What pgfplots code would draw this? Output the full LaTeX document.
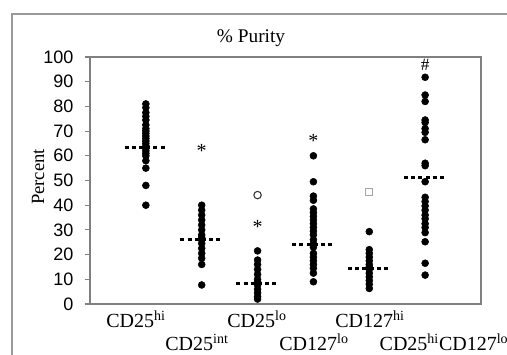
\documentclass[border=0pt]{standalone}
\usepackage{pgfplots}
\pgfplotsset{compat=1.18}
\usepackage{fontspec}
\setmainfont{Liberation Serif}
\newfontfamily\arial{Liberation Sans}
\definecolor{frm}{RGB}{128,128,128}
\newcommand\tickfont{\fontsize{13.5}{15}\selectfont\arial}
\begin{document}
\begin{tikzpicture}[x=0.75pt,y=0.75pt]
\useasboundingbox (0,0) rectangle (507,354);
\draw[frm!80,line width=1.2pt] (12,-60) -- (12,340) -- (600,340);
\begin{axis}[
  at={(67.5pt,37.5pt)}, anchor=origin,
  scale only axis, width=293.25pt, height=185.25pt,
  xmin=0, xmax=7, ymin=0, ymax=100,
  xtick=\empty,
  ytick={0,10,...,100},
  yticklabels={0,10,20,30,40,50,60,70,80,90,100},
  ytick pos=left,
  tick align=outside,
  major tick length=3.75pt,
  axis line style={frm, line width=0.8pt},
  tick style={frm, line width=0.8pt},
  yticklabel style={font=\tickfont, xshift=-5.5pt, inner sep=0.3em},
  clip=false,
]
% data points
\addplot[only marks, mark=*, mark size=2.6pt, black] coordinates {
 (1,81) (1,79.5) (1,77.5) (1,76) (1,74.5) (1,72.5) (1,71) (1,70) (1,69) (1,68) (1,67)
 (1,66) (1,65) (1,64) (1,63) (1,62) (1,61) (1,60) (1,58) (1,55) (1,48) (1,40)
 (2,40) (2,38) (2,36) (2,34) (2,32) (2,30) (2,28) (2,27) (2,26) (2,24.5) (2,22.5)
 (2,20.5) (2,18.5) (2,16) (2,7.7)
 (3,21.5) (3,17.8) (3,16) (3,14) (3,12) (3,10) (3,9) (3,7.7) (3,6) (3,4.5) (3,3) (3,2)
 (4,60) (4,49.5) (4,43.7) (4,42) (4,38.5) (4,37) (4,35.5) (4,34) (4,32.5) (4,31)
 (4,29.5) (4,28) (4,26) (4,24.5) (4,23) (4,20.5) (4,19) (4,17.5) (4,16) (4,14.5)
 (4,12.5) (4,9)
 (5,29.3) (5,22) (5,20.5) (5,19) (5,17.5) (5,16) (5,15) (5,14) (5,12.5) (5,11)
 (5,9.5) (5,8) (5,6.3)
 (6,91.8) (6,84.6) (6,82) (6,74.5) (6,73.5) (6,71) (6,69.5) (6,66.5) (6,57) (6,56)
 (6,49.5) (6,43.2) (6,41.5) (6,39.7) (6,38) (6,36) (6,34.5) (6,32.5) (6,31)
 (6,28.9) (6,25.2) (6,16.5) (6,11.7)
};
% medians
\pgfplotsset{med/.style={black, line width=2.25pt, dash pattern=on 3pt off 2.4pt, forget plot}}
\addplot[med] coordinates {(0.62,63.4) (1.38,63.4)};
\addplot[med] coordinates {(1.62,26.2) (2.38,26.2)};
\addplot[med] coordinates {(2.62,8.4) (3.38,8.4)};
\addplot[med] coordinates {(3.62,23.9) (4.38,23.9)};
\addplot[med] coordinates {(4.62,14.4) (5.38,14.4)};
\addplot[med] coordinates {(5.62,51.3) (6.38,51.3)};
% outliers
\addplot[only marks, mark=o, mark size=2.8pt, black!80, mark options={line width=0.8pt}] coordinates {(3,44.1)};
\addplot[only marks, mark=square, mark size=2.6pt, black!35, mark options={line width=0.8pt}] coordinates {(5,45.5)};
% significance markers
\node[font=\fontsize{15}{15}\selectfont, anchor=center, yshift=-3pt] at (axis cs:2,63.7) {*};
\node[font=\fontsize{15}{15}\selectfont, anchor=center, yshift=-3pt] at (axis cs:3,32.7) {*};
\node[font=\fontsize{15}{15}\selectfont, anchor=center, yshift=-3pt] at (axis cs:4,67.7) {*};
\node[font=\fontsize{13}{13}\selectfont, anchor=center] at (axis cs:6,96.8) {\#};
\end{axis}
\node[anchor=base, font=\fontsize{14.5}{16}\selectfont] at (251,311) {\% Purity};
\node[rotate=90, font=\fontsize{14}{16}\selectfont] at (38,177) {Percent};
\begin{scope}[every node/.style={anchor=base, font=\fontsize{15}{16}\selectfont, inner sep=0pt}]
\node at (136,27) {CD25\textsuperscript{hi}};
\node at (257,27) {CD25\textsuperscript{lo}};
\node at (370,27) {CD127\textsuperscript{hi}};
\node at (197,4) {CD25\textsuperscript{int}};
\node at (314,4) {CD127\textsuperscript{lo}};
\node at (444,4) {CD25\textsuperscript{hi}CD127\textsuperscript{lo}};
\end{scope}
\end{tikzpicture}
\end{document}
